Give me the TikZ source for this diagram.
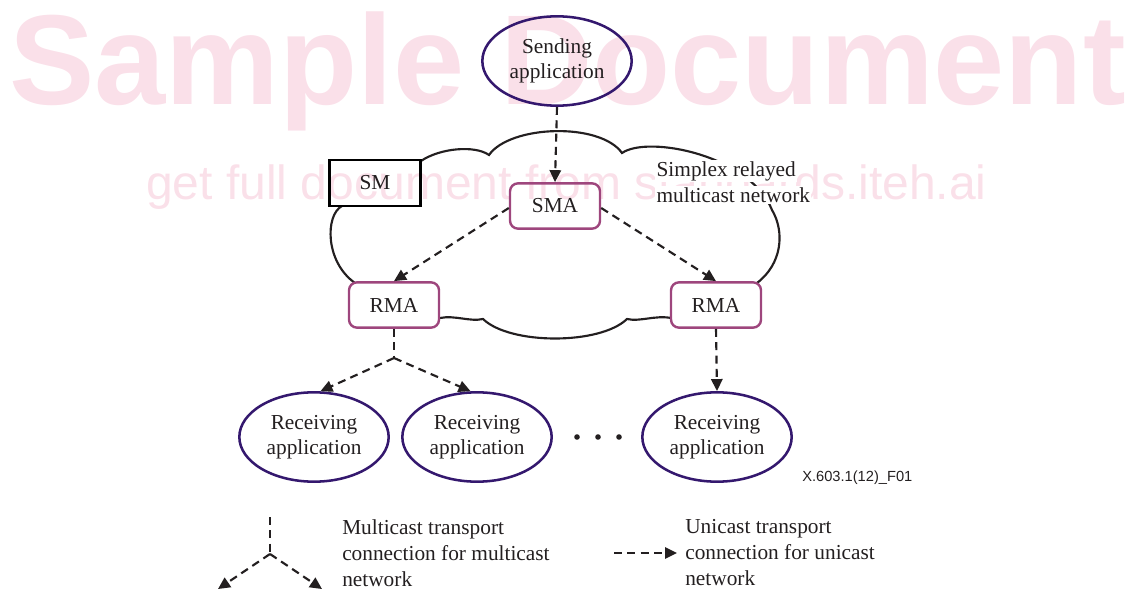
\documentclass[tikz,border=0pt]{standalone}
\usepackage{fontspec}
\setmainfont{Liberation Serif}
\newfontfamily\wmfont{Liberation Sans}
\usetikzlibrary{arrows.meta,shapes.geometric,calc}
\definecolor{appcol}{RGB}{52,24,110}
\definecolor{boxcol}{RGB}{158,70,125}
\definecolor{wmcol}{RGB}{250,224,233}
\definecolor{inkcol}{RGB}{35,31,32}
\begin{document}
\begin{tikzpicture}[x=0.75pt,y=-0.75pt,
  every node/.style={text=inkcol, font=\fontsize{16}{19}\selectfont},
  app/.style={ellipse, draw=appcol, line width=1.9pt, minimum width=112pt, minimum height=67pt, inner sep=0pt, align=center},
  agent/.style={rectangle, rounded corners=6pt, draw=boxcol, line width=1.8pt, minimum width=67.5pt, minimum height=34pt, inner sep=0pt},
  mgr/.style={rectangle, draw=black, line width=1.8pt, minimum width=68pt, minimum height=34.5pt, inner sep=0pt},
  conn/.style={draw=inkcol, line width=1.6pt, dash pattern=on 6pt off 4pt, -{Triangle[length=9pt,width=8.5pt]}},
  trunk/.style={draw=inkcol, line width=1.6pt, dash pattern=on 6pt off 4pt},
  cloudline/.style={draw=inkcol, line width=1.6pt},
  wm/.style={text=wmcol, inner sep=0pt, anchor=base west},
  lbl/.style={inner sep=1pt, anchor=west, fill=white},
  legend/.style={inner sep=0pt, anchor=west, align=left, font=\fontsize{16}{19.5}\selectfont}
]
\useasboundingbox (0,0) rectangle (1126,591);

% watermark
\node[wm, font=\wmfont\bfseries\fontsize{96}{96}\selectfont] (wm1) at (9,105) {Sample Document};
\node[wm, font=\wmfont\fontsize{36}{36}\selectfont] (wm2) at (146,200) {get full document from standards.iteh.ai};

% cloud
\draw[cloudline] (421,161) .. controls (440,148) and (475,145) .. (489,155)
  .. controls (510,125) and (600,122) .. (622,153)
  .. controls (648,135) and (750,155) .. (772,210)
  .. controls (785,232) and (782,264) .. (757,283);
\draw[cloudline] (671,318) .. controls (655,315) and (640,322) .. (627,319)
  .. controls (600,345) and (510,345) .. (483,319)
  .. controls (470,322) and (455,315) .. (440,318);
\draw[cloudline] (355,283) .. controls (325,262) and (325,215) .. (342,206);

\node[lbl] (net1) at (655,171) {Simplex relayed};
\node[lbl] (net2) at (655,195) {multicast network};

% nodes
\node[app] (send) at (557,61) {Sending\\application};
\node[mgr] (sm) at (375,183) {SM};
\node[agent] (sma) at (555,206) {SMA};
\node[agent] (rmaL) at (394,305) {RMA};
\node[agent] (rmaR) at (716,305) {RMA};
\node[app] (rx1) at (314,437) {Receiving\\application};
\node[app] (rx2) at (477,437) {Receiving\\application};
\node[app] (rx3) at (717,437) {Receiving\\application};

% dots
\fill[inkcol] (577,437) circle (2.8) (598,437) circle (2.8) (619,437) circle (2.8);

% connections
\draw[conn] (send.south) -- (sma.north);
\draw[conn] ([yshift=-1.5pt]sma.west) -- (rmaL.north);
\draw[conn] ([yshift=-1.5pt]sma.east) -- (rmaR.north);
\coordinate (mj) at (394,358);
\draw[trunk] (rmaL.south) -- (mj);
\draw[conn] (mj) -- (rx1.82);
\draw[conn] (mj) -- (rx2.98);
\draw[conn] (rmaR.south) -- (rx3.north);

\node[inner sep=0pt, anchor=west, font=\wmfont\fontsize{11}{11}\selectfont] (fig) at (802,478) {X.603.1(12)\_F01};

% legend
\coordinate (lt) at (270,517);
\coordinate (lj) at (270,554);
\coordinate (ll) at (218,589);
\coordinate (lr) at (322,589);
\draw[trunk] (lt) -- (lj);
\draw[conn] (lj) -- (ll);
\draw[conn] (lj) -- (lr);
\node[legend] (leg1) at (342,553) {Multicast transport\\connection for multicast\\network};
\coordinate (ua) at (614,553);
\coordinate (ub) at (677,553);
\draw[conn] (ua) -- (ub);
\node[legend] (leg2) at (685,553) {Unicast transport\\connection for unicast\\network};
\end{tikzpicture}
\end{document}
